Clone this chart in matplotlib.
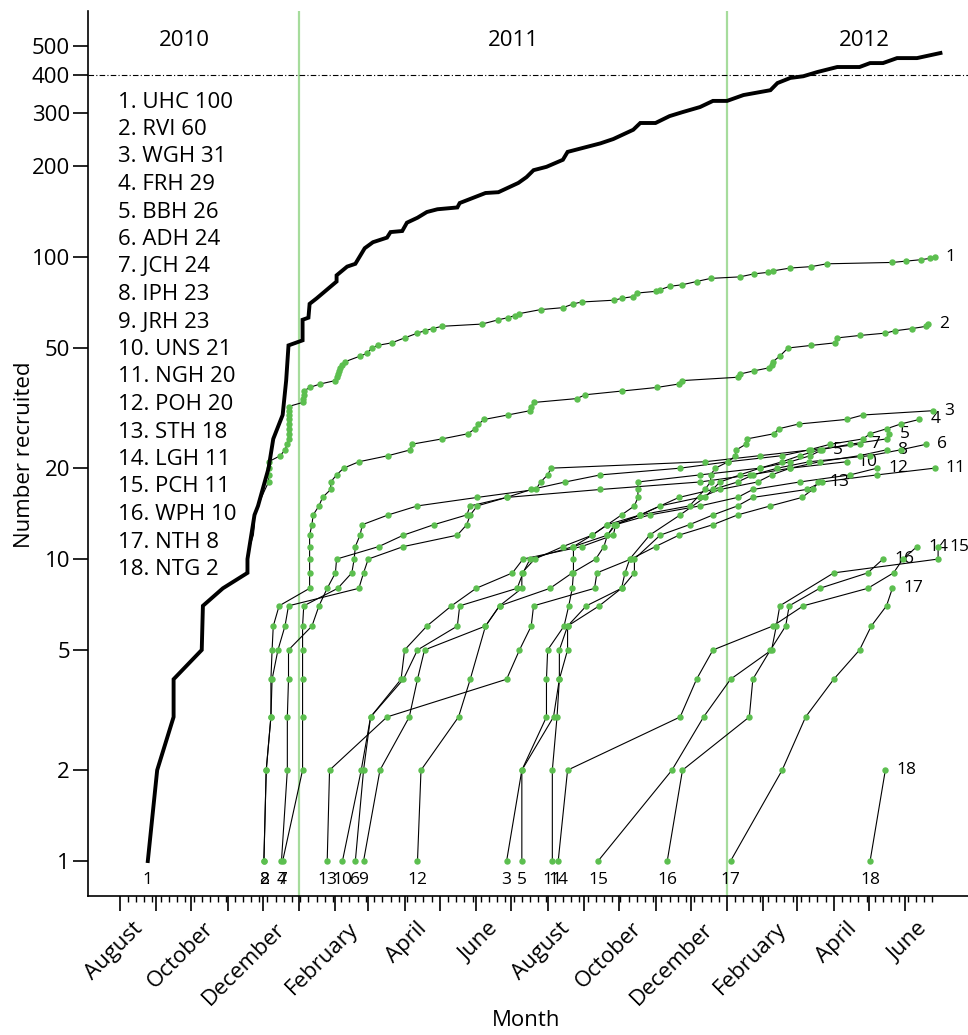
import matplotlib
matplotlib.use('Agg')
import matplotlib.pyplot as plt
import matplotlib.dates as mdates
import matplotlib.transforms as mtransforms
import numpy as np
import pandas as pd

plt.rcParams['font.family'] = ['Open Sans', 'DejaVu Sans']

# ── Data: days since 1 Jan 2011, cumulative number recruited ─────────────────
total_days = [-129, -121, -107, -107, -83, -82, -65, -44, -44, -38, -35, -26, -22, -14, -11, -9,
              3, 3, 8, 9, 15, 32, 32, 41, 48, 56, 63, 75, 78, 88, 92, 101, 109, 118, 135, 137,
              159, 170, 187, 194, 200, 211, 225, 229, 257, 268, 285, 291, 304, 316, 327, 342,
              353, 365, 379, 402, 408, 419, 430, 442, 459, 478, 487, 498, 510, 527, 547]
total_n = [1, 2, 3, 4, 5, 7, 8, 9, 10, 14, 15, 20, 25, 30, 39, 51,
           53, 62, 63, 70, 73, 83, 87, 93, 95, 107, 112, 116, 121, 122, 130, 135, 141, 144, 146, 151,
           163, 164, 176, 184, 194, 199, 210, 223, 238, 246, 264, 278, 278, 293, 302, 314,
           329, 329, 344, 357, 377, 392, 397, 410, 426, 426, 439, 439, 456, 456, 474]

s1_days = [-129, -121, -107, -107, -83, -82, -82, -65, -45, -44, -42, -39, -38, -38, -35, -32,
           -29, -26, -26, -26, -26, -16, -12, -10, -9, -9, -9, -9, -9, -9, -9, -9,
           3, 3, 4, 4, 9, 18, 31, 32, 33, 34, 35, 37, 39,
           52, 58, 62, 67, 79, 90, 101, 107, 114, 122,
           156, 170, 178, 184, 188, 206, 225, 234, 241,
           269, 275, 285, 288, 304, 308, 316, 327, 339, 351, 376,
           388, 400, 404, 419, 437, 450, 506, 518, 530, 538, 542]
s1_n = list(range(1, 33)) + [33, 34, 35, 36, 37, 38, 39, 40, 41, 42, 43, 44, 45,
                             47, 48, 50, 51, 52, 54, 56, 57, 58, 59,
                             60, 62, 63, 64, 65, 67, 68, 70, 71,
                             72, 73, 74, 76, 77, 78, 80, 81, 83, 85, 86,
                             88, 89, 90, 92, 93, 95, 96, 97, 98, 99, 100]

s2_days = [-30, -28, -24, -24, -23, -22, -17, 9, 9, 9, 9, 9, 11, 12, 17, 20, 27, 27, 32, 38,
           51, 76, 95, 96, 122, 144, 150, 153, 158, 178, 197, 198, 200, 237, 244, 275, 305,
           324, 327, 374, 376, 388, 401, 403, 404, 410, 417, 437, 457, 459, 478, 500, 508,
           523, 535, 536]
s2_n = [1, 2, 3, 4, 5, 6, 7, 8, 9, 10, 11, 12, 13, 14, 15, 16, 17, 18, 19, 20,
        21, 22, 23, 24, 25, 26, 27, 28, 29, 30, 31, 32, 33, 34, 35, 36, 37,
        38, 39, 40, 41, 42, 43, 44, 45, 47, 50, 51, 52, 54, 55, 56, 57,
        58, 59, 60]

s3_days = [177, 190, 211, 211, 212, 226, 230, 233, 234, 234, 234, 250, 263, 291, 333, 346,
           351, 351, 355, 366, 372, 373, 381, 382, 405, 409, 426, 467, 481, 541]
s3_n = [1, 2, 3, 4, 5, 6, 7, 8, 9, 10, 11, 12, 13, 14, 15, 17,
        18, 19, 20, 21, 22, 23, 24, 25, 26, 27, 28, 29, 30, 31]

s4_days = [-15, -10, -10, -9, -9, 11, 17, 24, 31, 32, 68, 89, 115, 143, 146, 177, 198, 227,
           257, 325, 366, 412, 435, 453, 481, 487, 501, 513, 529]
s4_n = list(range(1, 30))

s5_days = [190, 190, 217, 222, 222, 229, 245, 275, 278, 282, 299, 325, 346, 359, 376, 393,
           412, 427, 444, 470, 501, 503]
s5_n = [1, 2, 3, 4, 5, 6, 7, 8, 9, 10, 12, 14, 16, 18, 19, 20,
        21, 22, 23, 24, 25, 26]

s6_days = [48, 55, 61, 89, 101, 135, 137, 186, 191, 197, 234, 263, 269, 291, 324, 353, 374,
           387, 408, 435, 487, 513, 535]
s6_n = [1, 2, 3, 4, 5, 6, 7, 8, 9, 10, 11, 12, 13, 14, 16, 17, 18,
        19, 20, 21, 22, 23, 24]

s7_days = [-14, 3, 3, 3, 3, 3, 4, 33, 45, 47, 48, 52, 54, 76, 101, 152, 202, 206, 212, 215,
           346, 393, 437, 478]
s7_n = list(range(1, 25))

s8_days = [-30, -28, -24, -23, -18, -12, -9, 51, 55, 59, 89, 135, 143, 146, 152, 177, 257,
           342, 385, 419, 444, 478, 501]
s8_n = list(range(1, 24))

s9_days = [55, 69, 94, 101, 107, 159, 171, 190, 190, 201, 225, 250, 263, 275, 286, 289, 289,
           289, 342, 393, 419, 436, 446]
s9_n = list(range(1, 24))

s10_days = [37, 53, 61, 87, 90, 109, 130, 151, 182, 191, 241, 268, 270, 291, 308, 342, 359,
            391, 403, 419, 467]
s10_n = list(range(1, 22))

s11_days = [216, 216, 220, 222, 229, 229, 256, 275, 286, 286, 308, 333, 353, 374, 387, 433,
            446, 493, 542]
s11_n = [1, 2, 3, 4, 5, 6, 7, 8, 9, 10, 12, 13, 14, 15, 16, 17, 18, 19, 20]

s12_days = [101, 104, 136, 146, 159, 171, 214, 233, 253, 260, 263, 270, 299, 342, 374, 387,
            427, 470, 493]
s12_n = [1, 2, 3, 4, 6, 7, 8, 9, 10, 11, 12, 13, 14, 15, 16, 17, 18, 19, 20]

s13_days = [24, 26, 75, 177, 188, 198, 200, 252, 254, 283, 304, 324, 353, 374, 402, 429, 438,
            443]
s13_n = list(range(1, 19))

s14_days = [221, 229, 325, 339, 353, 404, 430, 485, 507, 515, 527]
s14_n = list(range(1, 12))

s15_days = [255, 318, 345, 368, 403, 407, 410, 456, 545, 545]
s15_n = [1, 2, 3, 4, 5, 6, 7, 9, 10, 11]

s16_days = [314, 327, 384, 387, 402, 415, 418, 444, 485, 498]
s16_n = list(range(1, 11))

s17_days = [368, 412, 432, 456, 478, 488, 501, 506]
s17_n = list(range(1, 9))

s18_days = [487, 500]
s18_n = [1, 2]

site_names = ["UHC", "RVI", "WGH", "FRH", "BBH", "ADH", "JCH", "IPH", "JRH",
              "UNS", "NGH", "POH", "STH", "LGH", "PCH", "WPH", "NTH", "NTG"]
site_totals = [100, 60, 31, 29, 26, 24, 24, 23, 23, 21, 20, 20, 18, 11, 11, 10, 8, 2]
# labels printed at the end of each line (the reference prints "5" beside site 9)
end_labels = ["1", "2", "3", "4", "5", "6", "7", "8", "5", "10", "11", "12", "13",
              "14", "15", "16", "17", "18"]

sites = [(s1_days, s1_n), (s2_days, s2_n), (s3_days, s3_n), (s4_days, s4_n),
         (s5_days, s5_n), (s6_days, s6_n), (s7_days, s7_n), (s8_days, s8_n),
         (s9_days, s9_n), (s10_days, s10_n), (s11_days, s11_n), (s12_days, s12_n),
         (s13_days, s13_n), (s14_days, s14_n), (s15_days, s15_n), (s16_days, s16_n),
         (s17_days, s17_n), (s18_days, s18_n)]

year_labels = ["2010", "2011", "2012"]
year_pos = ["2010-09-25", "2011-07-03", "2012-04-27"]

# ── Figure ───────────────────────────────────────────────────────────────────
W, H = 968, 1035
fig = plt.figure(figsize=(W / 100, H / 100), dpi=100)
ax = fig.add_axes([88 / W, 1 - 896 / H, (W - 88) / W, (896 - 11) / H])

t0 = mdates.date2num(pd.Timestamp("2011-01-01"))
green = "#5cbf4f"
fs = 16

for i, (d, n) in enumerate(sites):
    x = t0 + np.array(d, dtype=float)
    ax.plot(x, n, color="black", lw=0.8, zorder=3)
    # site 1 is the only recruiting site at first, its early points sit under the total line
    k0 = 17 if i == 0 else 0
    ax.plot(x[k0:], n[k0:], ls="none", marker="o", ms=3.6, mfc=green, mec=green, zorder=4)
    ax.text(x[0], 0.865, str(i + 1), ha="center", va="center", fontsize=12.5, zorder=5)
    ax.annotate(end_labels[i], (x[-1], n[-1]), xytext=(8, 0), textcoords="offset points",
                ha="left", va="center", fontsize=12.5)

ax.plot(t0 + np.array(total_days, dtype=float), total_n, color="black", lw=2.8,
        solid_joinstyle="miter", zorder=6)

for yr in ["2011-01-01", "2012-01-01"]:
    ax.axvline(mdates.date2num(pd.Timestamp(yr)), color="#a6dc9c", lw=1.6, zorder=1)
ax.axhline(400, color="black", lw=0.8, ls=(0, (5, 2, 1, 2)), zorder=2)

for lab, pos in zip(year_labels, year_pos):
    ax.text(mdates.date2num(pd.Timestamp(pos)), 523, lab, ha="center", va="center", fontsize=fs)

for i, (nm, tot) in enumerate(zip(site_names, site_totals)):
    fig.text(118 / W, 1 - (102 + i * 27.5) / H, f"{i + 1}. {nm} {tot}",
             ha="left", va="center", fontsize=fs)

# ── Axes formatting ──────────────────────────────────────────────────────────
ax.set_yscale("log")
ax.set_ylim(0.766, 653)
ax.set_xlim(t0 - 180, t0 + 570.5)
yt = [1, 2, 5, 10, 20, 50, 100, 200, 300, 400, 500]
ax.set_yticks(yt)
ax.set_yticklabels([str(v) for v in yt])
ax.yaxis.set_minor_locator(matplotlib.ticker.NullLocator())

months = pd.date_range("2010-08-01", "2012-06-01", freq="MS")
ax.set_xticks(mdates.date2num(months))
ax.set_xticklabels([m.strftime("%B") if k % 2 == 0 else "" for k, m in enumerate(months)])
weeks = pd.date_range("2010-08-01", "2012-06-24", freq="7D")
ax.set_xticks(mdates.date2num(weeks), minor=True)

for s in ["top", "right"]:
    ax.spines[s].set_visible(False)
for s in ["left", "bottom"]:
    ax.spines[s].set_linewidth(1.2)

ax.tick_params(axis="y", which="major", length=11, width=1.2, labelsize=fs, pad=2)
ax.tick_params(axis="x", which="major", length=11, width=1.2, labelsize=fs, pad=5)
ax.tick_params(axis="x", which="minor", length=4, width=1.0)

offset = mtransforms.ScaledTranslation(0.12, 0, fig.dpi_scale_trans)
for lbl in ax.get_xticklabels():
    lbl.set_rotation(45)
    lbl.set_ha("right")
    lbl.set_va("top")
    lbl.set_rotation_mode("anchor")
    lbl.set_transform(lbl.get_transform() + offset)

fig.text(25 / W, 1 - 455 / H, "Number recruited", rotation=90, ha="center", va="center",
         fontsize=fs)
fig.text(526 / W, 1 - 1020 / H, "Month", ha="center", va="center", fontsize=fs)

fig.savefig("out.png", dpi=100)
